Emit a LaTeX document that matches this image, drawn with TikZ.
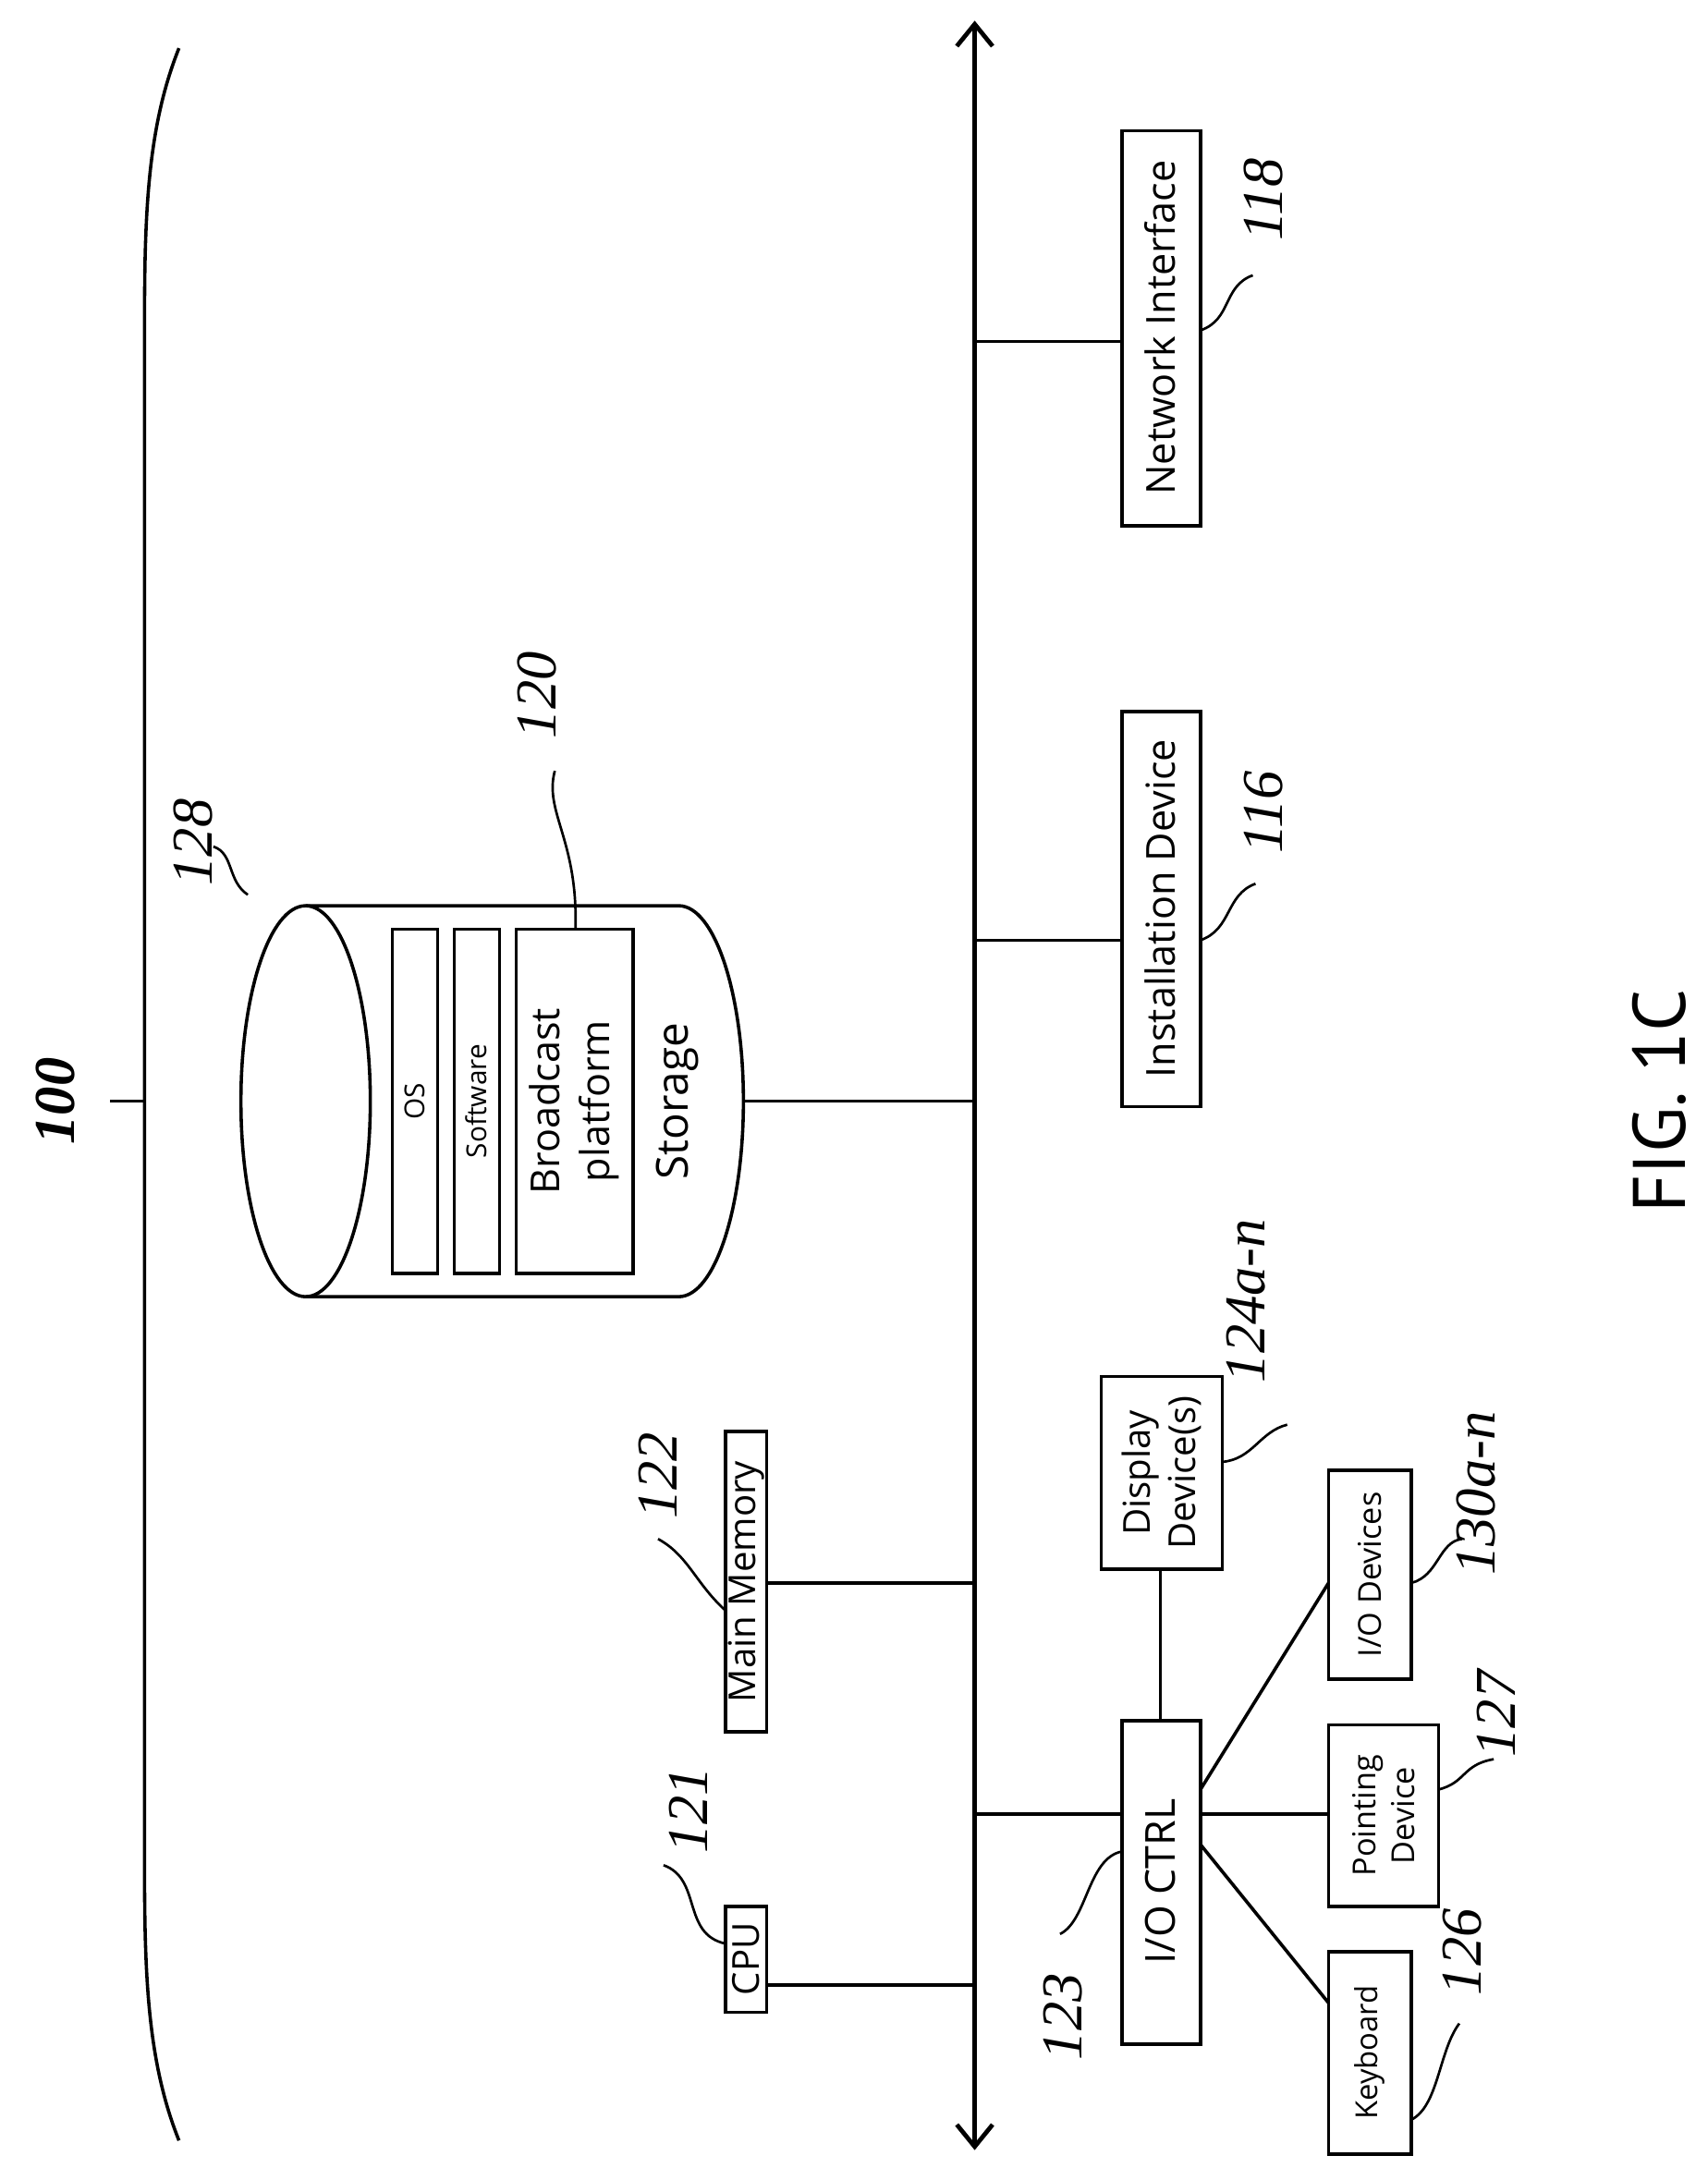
\documentclass[tikz,border=0pt]{standalone}
\usepackage{fontspec}
\usetikzlibrary{arrows.meta}
\setmainfont{Liberation Serif}
\newfontfamily\boxfont{Open Sans}
\newfontfamily\figfont{PT Sans}
\begin{document}
\begin{tikzpicture}[x=1pt,y=-1pt,line width=2.4pt,
  txt/.style={rotate=90,font=\boxfont\fontsize{29}{33}\selectfont,align=center},
  lab/.style={rotate=90,font=\itshape\fontsize{42}{46}\selectfont},
  lead/.style={line width=1.8pt}]
\useasboundingbox (0,0) rectangle (1240,1575);
% bus
\coordinate (bt) at (708,15); \coordinate (bb) at (708,1562);
\draw[line width=3.2pt,<->,>={Straight Barb[length=16pt,width=26pt]}] (bt) -- (bb);
% bracket
\draw (130,35) .. controls (108,90) and (105,150) .. (105,230) -- (105,1360) .. controls (105,1440) and (108,1500) .. (130,1555);
\coordinate (t0) at (105,800); \coordinate (t1) at (80,800);
\draw (t0)--(t1);
\node[lab,font=\bfseries\itshape\fontsize{42}{46}\selectfont] (l100) at (40,800) {100};
% boxes
\draw (527,1385) rectangle (557,1462); \node[txt,font=\boxfont\fontsize{27}{31}\selectfont] (cpu) at (542,1423) {CPU};
\draw (557,1442) -- (708,1442);
\draw (527,1040) rectangle (557,1258); \node[txt,font=\boxfont\fontsize{27}{31}\selectfont] (mm) at (542,1149) {Main Memory};
\draw (557,1150) -- (708,1150);
\draw (815,517) rectangle (872,804); \node[txt] (inst) at (843,660) {Installation Device};
\draw (708,683) -- (815,683);
\draw (815,95) rectangle (872,382); \node[txt] (net) at (843,238) {Network Interface};
\draw (708,248) -- (815,248);
\draw (815,1250) rectangle (872,1485); \node[txt,font=\boxfont\fontsize{30}{34}\selectfont] (ctrl) at (843,1367) {I/O CTRL};
\draw (708,1318) -- (815,1318);
\draw (800,1000) rectangle (888,1140); \node[txt,font=\boxfont\fontsize{27}{33}\selectfont] (disp) at (844,1070) {Display\\Device(s)};
\draw (843,1140) -- (843,1250);
\draw (965,1068) rectangle (1025,1220); \node[txt,font=\boxfont\fontsize{23}{27}\selectfont] (iod) at (995,1144) {I/O Devices};
\draw (872,1300) -- (965,1150);
\draw (965,1253) rectangle (1045,1385); \node[txt,font=\boxfont\fontsize{23}{28}\selectfont] (pd) at (1005,1319) {Pointing\\Device};
\draw (872,1318) -- (965,1318);
\draw (965,1418) rectangle (1025,1565); \node[txt,font=\boxfont\fontsize{22}{26}\selectfont] (kb) at (995,1491) {Keyboard};
\draw (872,1340) -- (965,1455);
% storage cylinder
\draw[fill=white] (222,658) -- (493,658) arc[start angle=-90,end angle=90,x radius=47,y radius=142] -- (222,942);
\draw (222,800) ellipse[x radius=47,y radius=142];
\draw (285,675) rectangle (318,925); \node[txt,font=\boxfont\fontsize{20}{24}\selectfont] (os) at (301,800) {OS};
\draw (330,675) rectangle (363,925); \node[txt,font=\boxfont\fontsize{20}{24}\selectfont] (sw) at (346,800) {Software};
\draw (375,675) rectangle (460,925); \node[txt,font=\boxfont\fontsize{29}{36}\selectfont] (bp) at (417,800) {Broadcast\\platform};
\node[txt,font=\boxfont\fontsize{32}{36}\selectfont] (st) at (492,800) {Storage};
\draw (540,800) -- (708,800);
% labels
\node[lab] (l121) at (500,1315) {121};
\draw[lead] (527,1412) .. controls (495,1405) and (510,1365) .. (482,1355);
\node[lab] (l122) at (478,1072) {122};
\draw[lead] (527,1170) .. controls (505,1150) and (500,1130) .. (478,1118);
\node[lab] (l128) at (140,612) {128};
\draw[lead] (180,650) .. controls (165,640) and (170,620) .. (155,615);
\node[lab] (l120) at (390,505) {120};
\draw[lead] (418,675) .. controls (420,610) and (395,590) .. (403,560);
\node[lab] (l116) at (918,590) {116};
\draw[lead] (872,683) .. controls (895,675) and (890,650) .. (912,642);
\node[lab] (l118) at (918,145) {118};
\draw[lead] (872,240) .. controls (895,232) and (888,208) .. (910,200);
\node[lab] (l123) at (772,1465) {123};
\draw[lead] (815,1345) .. controls (790,1350) and (790,1395) .. (770,1405);
\node[lab] (l124) at (905,945) {124\textit{a-n}};
\draw[lead] (888,1062) .. controls (910,1060) and (915,1040) .. (935,1035);
\node[lab] (l130) at (1072,1085) {130\textit{a-n}};
\draw[lead] (1025,1150) .. controls (1045,1145) and (1045,1120) .. (1062,1118);
\node[lab] (l127) at (1087,1245) {127};
\draw[lead] (1045,1300) .. controls (1065,1295) and (1062,1282) .. (1085,1278);
\node[lab] (l126) at (1062,1418) {126};
\draw[lead] (1025,1540) .. controls (1045,1530) and (1045,1490) .. (1060,1470);
\node[rotate=90,font=\figfont\fontsize{54}{58}\selectfont] (fig) at (1205,800) {FIG. 1C};
\end{tikzpicture}
\end{document}
